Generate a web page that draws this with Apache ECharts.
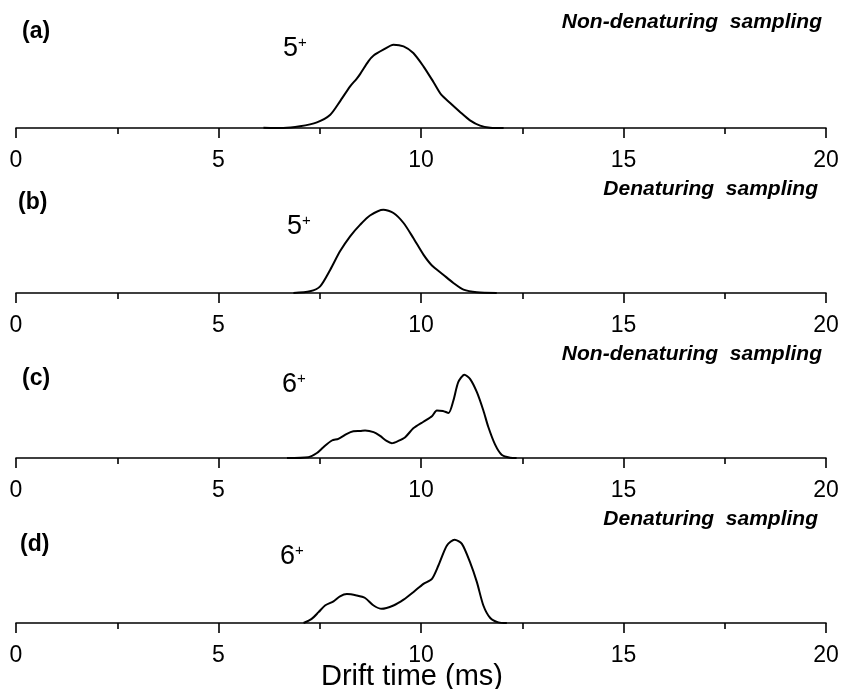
<!DOCTYPE html>
<html>
<head>
<meta charset="utf-8">
<script src="https://cdn.jsdelivr.net/npm/echarts@6/dist/echarts.min.js"></script>
<style>
  html, body { margin: 0; padding: 0; background: #fff; }
  #main { width: 843px; height: 689px; }
</style>
</head>
<body>
<div id="main"></div>
<script>
// Arrival-time distributions (relative intensity, %) versus drift time (ms)
const timeA   = [6.11, 6.60, 7.01, 7.43, 7.76, 8.00, 8.25, 8.41, 8.50, 8.70, 8.83, 9.07, 9.32, 9.57, 9.81, 10.06, 10.31, 10.50, 10.72, 10.97, 11.21, 11.46, 11.71, 12.04];
const signalA = [0.4, 0, 2.0, 6.8, 16, 32, 50, 59, 65, 80, 87, 94, 100, 98, 90, 74, 55, 40, 30, 19, 9.2, 2.8, 0.4, 0];

const timeB   = [6.85, 7.26, 7.51, 7.76, 8.00, 8.25, 8.50, 8.74, 9.07, 9.32, 9.57, 9.81, 10.06, 10.27, 10.55, 10.80, 11.05, 11.38, 11.87];
const signalB = [0, 2, 8, 28, 50, 68, 82, 93, 100, 96, 84, 66, 46, 33, 22, 12, 4, 0.8, 0];

const timeC   = [6.69, 7.22, 7.43, 7.59, 7.80, 7.96, 8.17, 8.33, 8.50, 8.62, 8.83, 8.99, 9.15, 9.28, 9.44, 9.61, 9.81, 10.06, 10.27, 10.39, 10.54, 10.68, 10.80, 10.92, 11.07, 11.21, 11.38, 11.54, 11.66, 11.83, 11.99, 12.20, 12.36];
const signalC = [0, 1, 6, 13, 21, 23, 29, 32, 32.4, 33, 31, 26.5, 20.5, 17.8, 20.5, 25, 35.6, 43.5, 50, 57, 56.5, 54, 69, 91, 100, 95, 79, 57, 37.5, 16, 4, 0.4, 0];

const timeD   = [7.10, 7.30, 7.47, 7.63, 7.84, 8.00, 8.17, 8.41, 8.62, 8.83, 9.03, 9.32, 9.57, 9.81, 10.06, 10.27, 10.43, 10.64, 10.83, 11.01, 11.21, 11.38, 11.54, 11.71, 11.91, 12.12];
const signalD = [0, 5, 13, 21, 26, 32, 34.7, 33, 30, 21, 17, 21, 28, 37, 47, 53, 69, 93, 100, 95, 73, 49, 21, 6, 0.8, 0];

// Axis ticks and panel texts
const tickValues   = [0, 5, 10, 15, 20];
const panelTags    = ['(a)', '(b)', '(c)', '(d)'];
const chargeStates = ['5', '5', '6', '6'];
const conditions   = ['Non-denaturing  sampling', 'Denaturing  sampling', 'Non-denaturing  sampling', 'Denaturing  sampling'];
const xAxisTitle   = 'Drift time (ms)';

const FONT = '"Liberation Sans", Arial, Helvetica, sans-serif';

const panels = [
  { t: timeA, s: signalA, top: 28,  tagTop: 20,  tagLeft: 22, chargeTop: 35,  chargeLeft: 283, condTop: 12,  condRight: 21 },
  { t: timeB, s: signalB, top: 193, tagTop: 191, tagLeft: 18, chargeTop: 213, chargeLeft: 287, condTop: 179, condRight: 25 },
  { t: timeC, s: signalC, top: 358, tagTop: 367, tagLeft: 22, chargeTop: 371, chargeLeft: 282, condTop: 344, condRight: 21 },
  { t: timeD, s: signalD, top: 523, tagTop: 533, tagLeft: 20, chargeTop: 543, chargeLeft: 280, condTop: 509, condRight: 25 }
];

const grid = [], xAxis = [], yAxis = [], series = [], title = [];

panels.forEach((p, i) => {
  grid.push({ left: 16, right: 17, top: p.top, height: 100 });
  xAxis.push({
    type: 'value', gridIndex: i, min: 0, max: 20, interval: 5,
    axisLine: { show: true, onZero: false, lineStyle: { color: '#000', width: 1.6 } },
    axisTick: { show: true, length: 10, lineStyle: { color: '#000', width: 1.6 } },
    minorTick: { show: true, splitNumber: 2, length: 6, lineStyle: { color: '#000', width: 1.6 } },
    splitLine: { show: false },
    axisLabel: {
      margin: 21, color: '#000', fontSize: 23, fontFamily: FONT,
      formatter: v => tickValues.includes(v) ? String(v) : ''
    }
  });
  yAxis.push({ type: 'value', gridIndex: i, min: 0, max: 120, show: false });
  series.push({
    type: 'line', xAxisIndex: i, yAxisIndex: i,
    data: p.t.map((x, k) => [x, p.s[k]]),
    smooth: 0.25, showSymbol: false, silent: true,
    lineStyle: { color: '#000', width: 2 }
  });
  title.push({
    text: panelTags[i], left: p.tagLeft, top: p.tagTop, padding: 0,
    textStyle: { fontFamily: FONT, fontSize: 23, fontWeight: 'bold', color: '#000' }
  });
  title.push({
    text: chargeStates[i] + '{sup|+}', left: p.chargeLeft, top: p.chargeTop, padding: 0,
    textStyle: {
      fontFamily: FONT, fontSize: 27, fontWeight: 'normal', color: '#000',
      rich: { sup: { fontFamily: FONT, fontSize: 15, color: '#000', verticalAlign: 'top' } }
    }
  });
  title.push({
    text: conditions[i], right: p.condRight, top: p.condTop, padding: 0,
    textStyle: { fontFamily: FONT, fontSize: 21, fontWeight: 'bold', fontStyle: 'italic', color: '#000' }
  });
});

title.push({
  text: xAxisTitle, left: 321, top: 662, padding: 0,
  textStyle: { fontFamily: FONT, fontSize: 29, fontWeight: 'normal', color: '#000' }
});

const chart = echarts.init(document.getElementById('main'), null, { renderer: 'canvas' });
chart.setOption({
  animation: false,
  backgroundColor: '#fff',
  title, grid, xAxis, yAxis, series
});
</script>
</body>
</html>
